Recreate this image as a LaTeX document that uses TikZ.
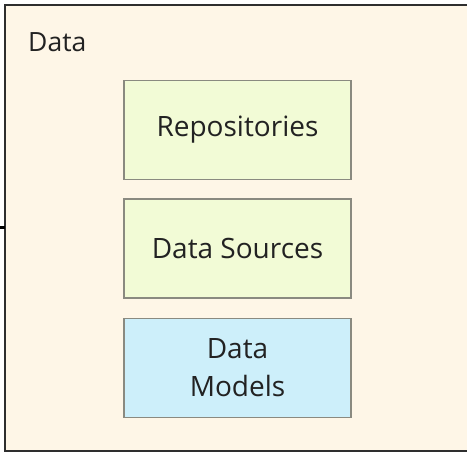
\documentclass[tikz,border=0pt]{standalone}
\usepackage{fontspec}
\setmainfont{Open Sans}
\definecolor{pkgfill}{HTML}{FEF6E7}
\definecolor{pkgline}{HTML}{2E2E2E}
\definecolor{layerfill}{HTML}{F2FBD6}
\definecolor{modelfill}{HTML}{CDEFFA}
\definecolor{boxline}{HTML}{8A8A80}
\definecolor{ink}{HTML}{222222}
\begin{document}
\begin{tikzpicture}[x=1pt,y=-1pt,
  layer/.style={draw=boxline, line width=1.3pt, fill=layerfill, minimum width=227pt,
    minimum height=99pt, inner sep=0pt, text=ink, font=\fontsize{28}{38}\selectfont,
    align=center},
  model/.style={layer, fill=modelfill}]
  \clip (0,0) rectangle (467,452);
  \fill[white] (0,0) rectangle (467,452);
  % package frame, running past the right edge
  \draw[draw=pkgline, fill=pkgfill, line width=2.4pt] (5,5) rectangle (480,451);
  \node[anchor=base west, text=ink, font=\fontsize{26.5}{30}\selectfont, inner sep=0pt] (title) at (28,52) {Data};
  % layers
  \node[layer] (repo) at (237.5,130) {Repositories};
  \node[layer] (src) at (237.5,248.5) {Data Sources};
  \node[model] (models) at (237.5,368) {Data\\Models};
  % incoming link stub on the frame
  \coordinate (stubend) at (0,228);
  \coordinate (frameleft) at (5,228);
  \draw[black, line width=3pt] (stubend) -- (frameleft);
\end{tikzpicture}
\end{document}
